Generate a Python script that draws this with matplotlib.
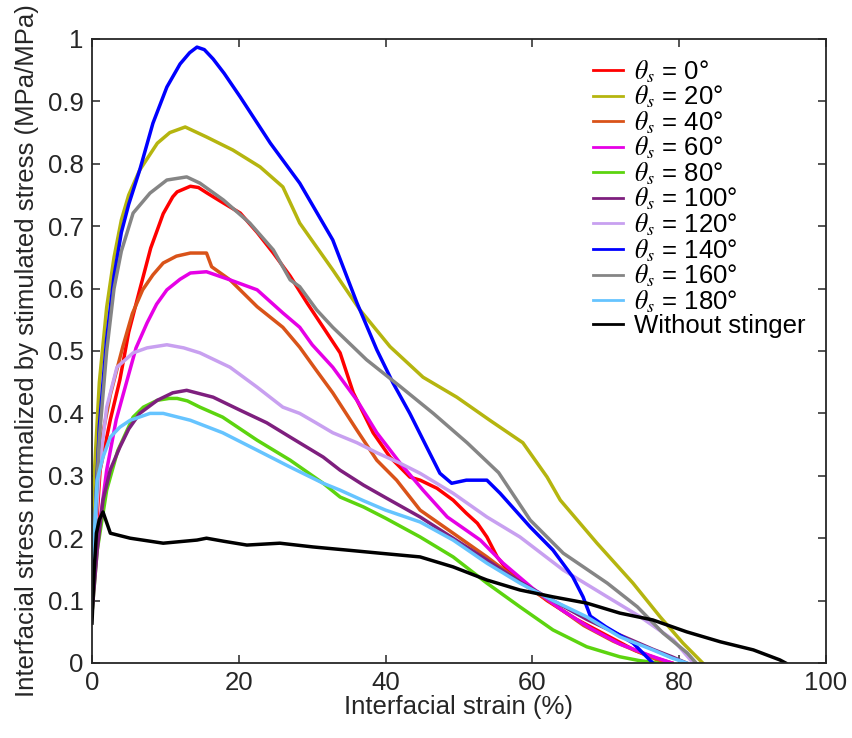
import matplotlib
matplotlib.use("Agg")
import matplotlib.pyplot as plt

plt.rcParams['font.family'] = ['Liberation Sans', 'DejaVu Sans']
plt.rcParams['mathtext.fontset'] = 'stix'

# ---- data ----
x0 = [0, 0.5, 1.1, 2.5, 3.8, 5, 6.5, 8, 8.9, 9.7, 11, 11.6, 13.4, 14.5, 15.7, 17.5, 20.2, 22.5, 24.7, 27, 29.3, 31.5, 33.8, 35.6, 38.3, 40.6, 43.3, 44.7, 47, 49.2, 51, 52.5, 53.8, 55.2, 56.5, 58.3, 62, 66, 70, 74, 77, 79]
y0 = [0.09, 0.2, 0.309, 0.39, 0.454, 0.53, 0.598, 0.665, 0.694, 0.72, 0.747, 0.755, 0.764, 0.762, 0.753, 0.74, 0.721, 0.69, 0.657, 0.62, 0.577, 0.538, 0.497, 0.433, 0.369, 0.33, 0.298, 0.293, 0.28, 0.261, 0.24, 0.224, 0.202, 0.17, 0.15, 0.133, 0.1, 0.07, 0.045, 0.02, 0.007, 0]

x20 = [0, 0.3, 1, 2, 3, 4, 5, 6.5, 8.9, 10.6, 12.7, 15.6, 19.2, 22.9, 26, 28.3, 32.8, 36.5, 40.6, 45.1, 49.7, 54.2, 58.7, 62, 63.8, 68.8, 73.7, 77.4, 80.5, 83.2]
y20 = [0.1, 0.3, 0.45, 0.57, 0.65, 0.71, 0.75, 0.79, 0.833, 0.85, 0.859, 0.843, 0.822, 0.795, 0.763, 0.705, 0.63, 0.566, 0.507, 0.458, 0.426, 0.389, 0.353, 0.298, 0.261, 0.192, 0.128, 0.074, 0.032, 0]

x40 = [0, 0.5, 1.1, 2.5, 4.2, 5.5, 6.9, 8.3, 9.7, 11.5, 13.4, 15.6, 16.3, 18.8, 22.5, 26, 28.3, 30.5, 32.8, 36.1, 38.8, 41.5, 44.7, 49.2, 53.8, 58.3, 62.8, 67, 71, 75, 78]
y40 = [0.09, 0.22, 0.346, 0.43, 0.507, 0.56, 0.598, 0.622, 0.641, 0.652, 0.657, 0.657, 0.635, 0.614, 0.571, 0.538, 0.506, 0.47, 0.433, 0.373, 0.325, 0.293, 0.245, 0.208, 0.17, 0.13, 0.095, 0.06, 0.035, 0.015, 0]

x60 = [0, 0.8, 2, 3.3, 4.8, 6, 7.5, 8.8, 10.2, 12, 13.4, 15.6, 18.8, 22.5, 26, 28.3, 30, 32.8, 36.1, 38.8, 42, 45.1, 48.4, 52.9, 56, 60, 64, 68, 72, 76, 79]
y60 = [0.09, 0.2, 0.309, 0.39, 0.454, 0.505, 0.545, 0.575, 0.598, 0.615, 0.625, 0.627, 0.614, 0.598, 0.561, 0.538, 0.51, 0.474, 0.421, 0.369, 0.32, 0.277, 0.234, 0.197, 0.16, 0.12, 0.085, 0.055, 0.03, 0.012, 0]

x80 = [0, 0.7, 2, 3.5, 5.6, 7, 8.9, 10.5, 11.6, 13, 14.7, 17.8, 22.5, 27, 31.5, 33.8, 37, 40, 44.7, 49.2, 53.8, 58.3, 62.8, 67.4, 71.9, 74.5, 77]
y80 = [0.08, 0.18, 0.277, 0.34, 0.394, 0.41, 0.421, 0.424, 0.424, 0.42, 0.41, 0.394, 0.357, 0.325, 0.288, 0.266, 0.25, 0.232, 0.202, 0.17, 0.128, 0.09, 0.053, 0.026, 0.01, 0.004, 0]

x100 = [0, 0.7, 1.5, 2.5, 3.8, 5, 6.5, 8.9, 11, 12.9, 16.5, 20.2, 23.8, 27, 31.5, 33.8, 37, 40, 44.7, 49.2, 53.8, 58.3, 62.8, 67.4, 71.9, 76.4, 79, 81]
y100 = [0.08, 0.18, 0.261, 0.31, 0.346, 0.375, 0.40, 0.421, 0.433, 0.437, 0.426, 0.405, 0.385, 0.362, 0.33, 0.309, 0.285, 0.265, 0.234, 0.2, 0.165, 0.13, 0.1, 0.07, 0.045, 0.022, 0.01, 0]

x120 = [0, 0.5, 1, 2, 3.4, 5.6, 7.5, 10.2, 12.5, 14.7, 18.8, 22.5, 26, 28.3, 30.5, 32.8, 36.1, 38.8, 42, 44.7, 49.2, 53.8, 58.3, 64.2, 70.2, 74.7, 79.2, 81.9]
y120 = [0.1, 0.22, 0.31, 0.41, 0.474, 0.497, 0.505, 0.51, 0.505, 0.497, 0.474, 0.442, 0.41, 0.4, 0.385, 0.369, 0.353, 0.337, 0.32, 0.304, 0.272, 0.234, 0.202, 0.149, 0.106, 0.074, 0.037, 0]

x140 = [0, 0.5, 1, 2, 3, 4, 5, 6.5, 8.3, 10.2, 12, 13.3, 14.3, 15.3, 16.5, 18, 20.2, 24.3, 28.3, 32.8, 36.1, 38.8, 41, 43.3, 45.6, 47.4, 49, 51, 53.8, 55.6, 59.7, 62.8, 65.5, 66.9, 67.9, 70, 73.7, 76.4]
y140 = [0.1, 0.25, 0.38, 0.52, 0.62, 0.69, 0.735, 0.79, 0.865, 0.923, 0.96, 0.978, 0.987, 0.983, 0.968, 0.945, 0.907, 0.833, 0.769, 0.678, 0.577, 0.502, 0.449, 0.40, 0.346, 0.304, 0.288, 0.293, 0.293, 0.272, 0.218, 0.181, 0.138, 0.106, 0.075, 0.058, 0.032, 0]

x160 = [0, 0.5, 1, 2, 3, 4, 5.6, 7.9, 10.2, 12.9, 14.7, 17.9, 21.5, 24.7, 27, 28.3, 30.6, 32.8, 37.4, 42, 46.5, 51.1, 55.4, 59.7, 64.2, 70.2, 74.3, 77.8, 81.1, 82.3]
y160 = [0.1, 0.25, 0.36, 0.5, 0.6, 0.66, 0.721, 0.753, 0.774, 0.779, 0.769, 0.742, 0.705, 0.662, 0.614, 0.603, 0.566, 0.538, 0.486, 0.443, 0.40, 0.353, 0.305, 0.229, 0.176, 0.128, 0.09, 0.048, 0.016, 0]

x180 = [0, 0.3, 0.7, 1.5, 2.5, 3.8, 5.2, 7.9, 9.7, 13.4, 17.8, 22.5, 27, 31.5, 33.8, 37, 40, 44.7, 49.2, 53.8, 58.3, 62.8, 67.4, 71.9, 76.4, 79, 81]
y180 = [0.1, 0.2, 0.293, 0.33, 0.362, 0.378, 0.389, 0.40, 0.40, 0.389, 0.369, 0.341, 0.314, 0.288, 0.277, 0.26, 0.245, 0.226, 0.197, 0.16, 0.128, 0.10, 0.074, 0.042, 0.021, 0.008, 0]

xns = [0, 0.3, 0.6, 1.0, 1.5, 2.0, 2.5, 5.2, 9.7, 14.3, 15.6, 18, 21.1, 25.6, 30.1, 34.7, 39.2, 44.7, 49.2, 53.8, 58.3, 62.8, 67.4, 71.9, 76.4, 81, 85.6, 90.1, 93.7, 94.5]
yns = [0.064, 0.15, 0.208, 0.23, 0.242, 0.225, 0.208, 0.2, 0.192, 0.197, 0.2, 0.195, 0.189, 0.192, 0.186, 0.181, 0.176, 0.17, 0.154, 0.133, 0.117, 0.106, 0.096, 0.08, 0.069, 0.05, 0.034, 0.021, 0.005, 0]

labels = [r'$\theta_s$ = 0°', r'$\theta_s$ = 20°', r'$\theta_s$ = 40°', r'$\theta_s$ = 60°',
          r'$\theta_s$ = 80°', r'$\theta_s$ = 100°', r'$\theta_s$ = 120°', r'$\theta_s$ = 140°',
          r'$\theta_s$ = 160°', r'$\theta_s$ = 180°', 'Without stinger']
colors = ['#FF0000', '#B5B50F', '#D95319', '#E600E6', '#5CD40F', '#7E1F7E',
          '#C8A0F0', '#0000FF', '#858585', '#66C4FF', '#000000']
xs = [x0, x20, x40, x60, x80, x100, x120, x140, x160, x180, xns]
ys = [y0, y20, y40, y60, y80, y100, y120, y140, y160, y180, yns]

fig = plt.figure(figsize=(8.52, 7.38), dpi=100)
ax = fig.add_axes([92/852, 75/738, (826-92)/852, (663-39)/738])

for xv, yv, c, lab in zip(xs, ys, colors, labels):
    ax.plot(xv, yv, color=c, lw=2.5, label=lab, solid_joinstyle='round')

ax.set_xlim(0, 100)
ax.set_ylim(0, 1)
ax.set_xticks([0, 20, 40, 60, 80, 100])
ax.set_yticks([0, 0.1, 0.2, 0.3, 0.4, 0.5, 0.6, 0.7, 0.8, 0.9, 1])
ax.set_yticklabels(['0', '0.1', '0.2', '0.3', '0.4', '0.5', '0.6', '0.7', '0.8', '0.9', '1'])
ax.tick_params(direction='in', length=6, width=1.1, top=True, right=True,
               labelsize=18.5, colors='#262626', pad=6)
for sp in ax.spines.values():
    sp.set_linewidth(1.3)
    sp.set_color('#262626')

ax.set_xlabel('Interfacial strain (%)', fontsize=18.5, color='#262626', labelpad=0)
ax.set_ylabel('Interfacial stress normalized by stimulated stress (MPa/MPa)',
              fontsize=18.5, color='#262626', labelpad=6)

leg = ax.legend(loc='upper left', bbox_to_anchor=(593/852, 1 - 58/738),
                bbox_transform=fig.transFigure, frameon=False, fontsize=18.5,
                handlelength=1.15, handletextpad=0.45, labelspacing=-0.04,
                borderpad=0, borderaxespad=0)
for h in leg.get_lines():
    h.set_linewidth(2.0)

fig.savefig('out.png', dpi=100)
